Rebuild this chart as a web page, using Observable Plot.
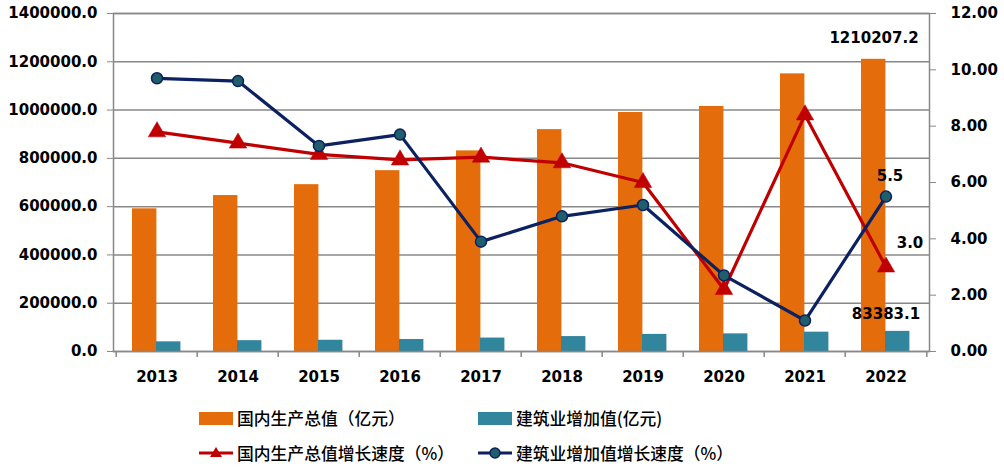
<!DOCTYPE html>
<html><head><meta charset="utf-8">
<script src="https://cdn.jsdelivr.net/npm/d3@7"></script>
<script src="https://cdn.jsdelivr.net/npm/@observablehq/plot@0.6"></script>
<style>
body{margin:0;background:#fff;}
#wrap{position:relative;width:1004px;height:473px;overflow:hidden;}
#legend{position:absolute;left:0;top:395px;width:1004px;height:78px;font-family:"Noto Sans CJK SC",sans-serif;font-size:16.8px;font-weight:500;color:#000;}
.item{position:absolute;display:flex;align-items:center;height:20px;white-space:nowrap;}
.sw{display:inline-block;width:34px;height:13px;margin-right:4px;}
.item svg{margin-right:3px;}
</style></head><body><div id="wrap"><div id="chart"></div><div id="legend"></div></div>
<script>
const years = [2013, 2014, 2015, 2016, 2017, 2018, 2019, 2020, 2021, 2022];
const gdp = [591000, 646000, 691000, 749000, 831000, 919000, 990000, 1015000, 1150000, 1210207.2];
const construction = [40000, 44900, 46600, 49700, 55700, 61800, 70900, 73000, 80100, 83383.1];
const gdpGrowth = [7.8, 7.4, 7.0, 6.8, 6.9, 6.7, 6.0, 2.2, 8.4, 3.0];
const constructionGrowth = [9.7, 9.6, 7.3, 7.7, 3.9, 4.8, 5.2, 2.7, 1.1, 5.5];
const leftTicks = [0, 200000, 400000, 600000, 800000, 1000000, 1200000, 1400000];
const rightTicks = [0, 2, 4, 6, 8, 10, 12];
const seriesNames = ["国内生产总值（亿元）", "建筑业增加值(亿元)", "国内生产总值增长速度（%）", "建筑业增加值增长速度（%）"];
const labels = [
  {year: 2022, series: "gdp", text: "1210207.2"},
  {year: 2022, series: "construction", text: "83383.1"},
  {year: 2022, series: "constructionGrowth", text: "5.5"},
  {year: 2022, series: "gdpGrowth", text: "3.0"}
];

const colors = {gdp: "#E46C0A", construction: "#31859C", gdpGrowth: "#C00000", constructionGrowth: "#0B2160", marker: "#215E6C"};
const K = 1400000 / 12;
const rows = years.map((y, i) => ({year: y, gdp: gdp[i], construction: construction[i], gdpGrowth: gdpGrowth[i] * K, constructionGrowth: constructionGrowth[i] * K}));
const W = 1004, H = 395, ML = 113, MR = 75, MT = 13, MB = 44;
const bw = (W - ML - MR) / years.length;
const grid = "#888888";
const font = {fontFamily: "DejaVu Sans", fontWeight: "bold", fontSize: 15};
const rowOf = Object.fromEntries(rows.map(r => [r.year, r]));

const chart = Plot.plot({
  width: W, height: H, marginLeft: ML, marginRight: MR, marginTop: MT, marginBottom: MB,
  style: {fontFamily: "DejaVu Sans", fontWeight: "bold", fontSize: "15px", color: "#000", background: "#fff"},
  x: {type: "band", domain: years, padding: 0},
  y: {domain: [0, 1400000]},
  marks: [
    Plot.ruleY(leftTicks, {stroke: grid, strokeWidth: 1.5}),
    Plot.barY(rows, {x: "year", y: "gdp", fill: colors.gdp, insetLeft: 16, insetRight: bw - 41}),
    Plot.barY(rows, {x: "year", y: "construction", fill: colors.construction, insetLeft: 40, insetRight: bw - 65}),
    Plot.frame({stroke: grid, strokeWidth: 1.5}),
    Plot.ruleX(years, {x: d => d, y1: 0, y2: 0, insetBottom: -6, dx: -bw / 2, stroke: grid, strokeWidth: 1.5}),
    Plot.ruleX([years[years.length - 1]], {x: d => d, y1: 0, y2: 0, insetBottom: -6, dx: bw / 2, stroke: grid, strokeWidth: 1.5}),
    Plot.axisY(leftTicks, {anchor: "left", tickFormat: d => d.toFixed(1), tickSize: 6, tickPadding: 10, stroke: grid, color: "#000", label: null, ...font}),
    Plot.axisY(rightTicks.map(d => d * K), {anchor: "right", tickFormat: d => (d / K).toFixed(2), tickSize: 6, tickPadding: 15, stroke: grid, color: "#000", label: null, ...font}),
    Plot.axisX({tickSize: 0, tickPadding: 20, tickFormat: d => String(d), label: null, color: "#000", ...font}),
    Plot.line(rows, {x: "year", y: "gdpGrowth", stroke: colors.gdpGrowth, strokeWidth: 3.2}),
    Plot.dot(rows, {x: "year", y: "gdpGrowth", symbol: "triangle", r: 6.5, fill: colors.gdpGrowth, stroke: colors.gdpGrowth, strokeWidth: 0.5}),
    Plot.line(rows, {x: "year", y: "constructionGrowth", stroke: colors.constructionGrowth, strokeWidth: 3.2}),
    Plot.dot(rows, {x: "year", y: "constructionGrowth", r: 5.5, fill: colors.marker, stroke: colors.constructionGrowth, strokeWidth: 1.5}),
    Plot.text(labels.filter(d => d.series === "gdp"), {x: "year", y: d => rowOf[d.year].gdp, text: "text", dx: -12, dy: -21, fill: "#000", ...font}),
    Plot.text(labels.filter(d => d.series === "construction"), {x: "year", y: d => rowOf[d.year].construction, text: "text", dx: 0, dy: -17, fill: "#000", ...font}),
    Plot.text(labels.filter(d => d.series === "constructionGrowth"), {x: "year", y: d => rowOf[d.year].constructionGrowth, text: "text", dx: 4, dy: -20, fill: "#000", ...font}),
    Plot.text(labels.filter(d => d.series === "gdpGrowth"), {x: "year", y: d => rowOf[d.year].gdpGrowth, text: "text", dx: 24, dy: -24, fill: "#000", ...font})
  ]
});
document.getElementById("chart").appendChild(chart);

// Legend
const legend = document.getElementById("legend");
const items = [
  {name: seriesNames[0], kind: "bar", color: colors.gdp, left: 199, top: 13},
  {name: seriesNames[1], kind: "bar", color: colors.construction, left: 478, top: 13},
  {name: seriesNames[2], kind: "tri", color: colors.gdpGrowth, left: 198, top: 48},
  {name: seriesNames[3], kind: "dot", color: colors.constructionGrowth, left: 477, top: 48}
];
for (const it of items) {
  const div = document.createElement("div");
  div.className = "item";
  div.style.left = it.left + "px";
  div.style.top = it.top + "px";
  if (it.kind === "bar") {
    const s = document.createElement("span");
    s.className = "sw"; s.style.background = it.color;
    div.appendChild(s);
  } else {
    const ns = "http://www.w3.org/2000/svg";
    const svg = document.createElementNS(ns, "svg");
    svg.setAttribute("width", 36); svg.setAttribute("height", 16);
    const ln = document.createElementNS(ns, "line");
    ln.setAttribute("x1", 1); ln.setAttribute("x2", 35); ln.setAttribute("y1", 8); ln.setAttribute("y2", 8);
    ln.setAttribute("stroke", it.color); ln.setAttribute("stroke-width", 3);
    svg.appendChild(ln);
    if (it.kind === "tri") {
      const p = document.createElementNS(ns, "path");
      p.setAttribute("d", "M18,2 L24,12 L12,12 Z");
      p.setAttribute("fill", it.color);
      svg.appendChild(p);
    } else {
      const c = document.createElementNS(ns, "circle");
      c.setAttribute("cx", 18); c.setAttribute("cy", 8); c.setAttribute("r", 5);
      c.setAttribute("fill", colors.marker); c.setAttribute("stroke", it.color); c.setAttribute("stroke-width", 1.5);
      svg.appendChild(c);
    }
    div.appendChild(svg);
  }
  const t = document.createElement("span");
  t.textContent = it.name;
  div.appendChild(t);
  legend.appendChild(div);
}
</script></body></html>
